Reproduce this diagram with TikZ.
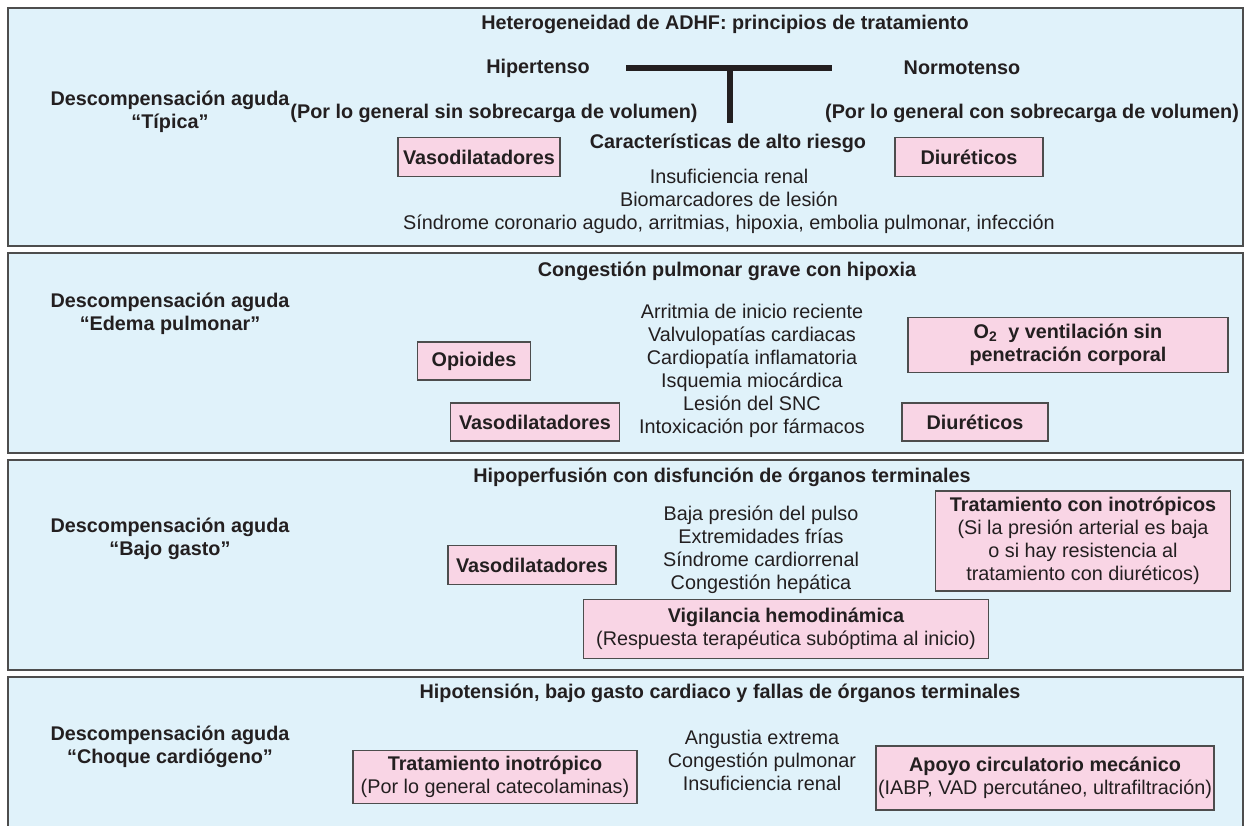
\documentclass[tikz,border=0pt]{standalone}
\usepackage{fontspec}
\setmainfont{Liberation Sans}
\definecolor{panelblue}{HTML}{E0F2FA}
\definecolor{boxpink}{HTML}{F9D5E5}
\definecolor{inkgray}{HTML}{231F20}
\definecolor{framegray}{HTML}{4D4D4D}
\tikzset{
  panel/.style={draw=framegray, line width=1.5pt, fill=panelblue},
  txt/.style={align=center, inner sep=0pt, text=inkgray, font=\fontsize{19.8}{23}\selectfont},
  hd/.style={txt, font=\fontsize{19.8}{23}\selectfont\bfseries},
  rx/.style={draw=framegray, line width=1.2pt, fill=boxpink, align=center, inner sep=0pt,
    text=inkgray, font=\fontsize{19.8}{23}\selectfont\bfseries},
  rxs/.style={rx, font=\fontsize{19.8}{23}\selectfont}
}
\begin{document}
\begin{tikzpicture}[x=1pt, y=-1pt]
  \clip (0, 0) rectangle (1246, 825);
  \fill[white] (0, 0) rectangle (1246, 825);
  %\draw[lightgray] (0, 0) grid[step=50] (1246, 825);

  % panels
  \draw[panel] (8, 8) rectangle (1243, 246);
  \draw[panel] (8, 253) rectangle (1243, 453);
  \draw[panel] (8, 460) rectangle (1243, 670);
  \draw[panel] (8, 677) rectangle (1243, 840);

  % tipica
  \node[hd] (tit1) at (725, 24) {Heterogeneidad de ADHF: principios de tratamiento};
  \node[hd] (hiper) at (538, 68) {Hipertenso};
  \node[hd] (normo) at (962, 68) {Normotenso};
  \draw[line width=6pt, inkgray] (626, 68) -- (832, 68);
  \draw[line width=6pt, inkgray] (730, 68) -- (730, 123);
  \node[hd] (tipica) at (170, 112) {Descompensación aguda\\“Típica”};
  \node[hd] (sinvol) at (494, 113) {(Por lo general sin sobrecarga de volumen)};
  \node[hd] (convol) at (1032, 113) {(Por lo general con sobrecarga de volumen)};
  \node[hd] (riesgo) at (728, 143) {Características de alto riesgo};
  \node[rx, minimum width=162, minimum height=39] (vaso1) at (479, 157) {Vasodilatadores};
  \node[rx, minimum width=148, minimum height=39] (diur1) at (969, 157) {Diuréticos};
  \node[txt] (lista1) at (729, 201) {Insuficiencia renal\\Biomarcadores de lesión\\Síndrome coronario agudo, arritmias, hipoxia, embolia pulmonar, infección};

  % edema pulmonar
  \node[hd] (tit2) at (727, 271) {Congestión pulmonar grave con hipoxia};
  \node[hd] (edema) at (170, 314) {Descompensación aguda\\“Edema pulmonar”};
  \node[txt] (lista2) at (752, 371) {Arritmia de inicio reciente\\Valvulopatías cardiacas\\Cardiopatía inflamatoria\\Isquemia miocárdica\\Lesión del SNC\\Intoxicación por fármacos};
  \node[rx, minimum width=113, minimum height=38] (opio) at (474, 361) {Opioides};
  \node[rx, minimum width=169, minimum height=38] (vaso2) at (535, 422) {Vasodilatadores};
  \node[rx, minimum width=320, minimum height=55] (oxig) at (1068, 345) {O\textsubscript{2}~ y ventilación sin\\penetración corporal};
  \node[rx, minimum width=146, minimum height=38] (diur2) at (975, 422) {Diuréticos};

  % bajo gasto
  \node[hd] (tit3) at (722, 477) {Hipoperfusión con disfunción de órganos terminales};
  \node[hd] (bajo) at (170, 539) {Descompensación aguda\\“Bajo gasto”};
  \node[txt] (lista3) at (761, 550) {Baja presión del pulso\\Extremidades frías\\Síndrome cardiorrenal\\Congestión hepática};
  \node[rx, minimum width=168, minimum height=39] (vaso3) at (532, 565) {Vasodilatadores};
  \node[rxs, minimum width=295, minimum height=100] (inotr) at (1083, 541)
    {\textbf{Tratamiento con inotrópicos}\\(Si la presión arterial es baja\\o si hay resistencia al\\tratamiento con diuréticos)};
  \node[rxs, minimum width=405, minimum height=59] (vigil) at (786, 629)
    {\textbf{Vigilancia hemodinámica}\\(Respuesta terapéutica subóptima al inicio)};

  % choque
  \node[hd] (tit4) at (720, 693) {Hipotensión, bajo gasto cardiaco y fallas de órganos terminales};
  \node[hd] (choque) at (170, 747) {Descompensación aguda\\“Choque cardiógeno”};
  \node[txt] (lista4) at (762, 760) {Angustia extrema\\Congestión pulmonar\\Insuficiencia renal};
  \node[rxs, minimum width=284, minimum height=53] (inotr2) at (495, 777)
    {\textbf{Tratamiento inotrópico}\\(Por lo general catecolaminas)};
  \node[rxs, minimum width=338, minimum height=64] (apoyo) at (1045, 778)
    {\textbf{Apoyo circulatorio mecánico}\\(IABP, VAD percutáneo, ultrafiltración)};
\end{tikzpicture}
\end{document}
